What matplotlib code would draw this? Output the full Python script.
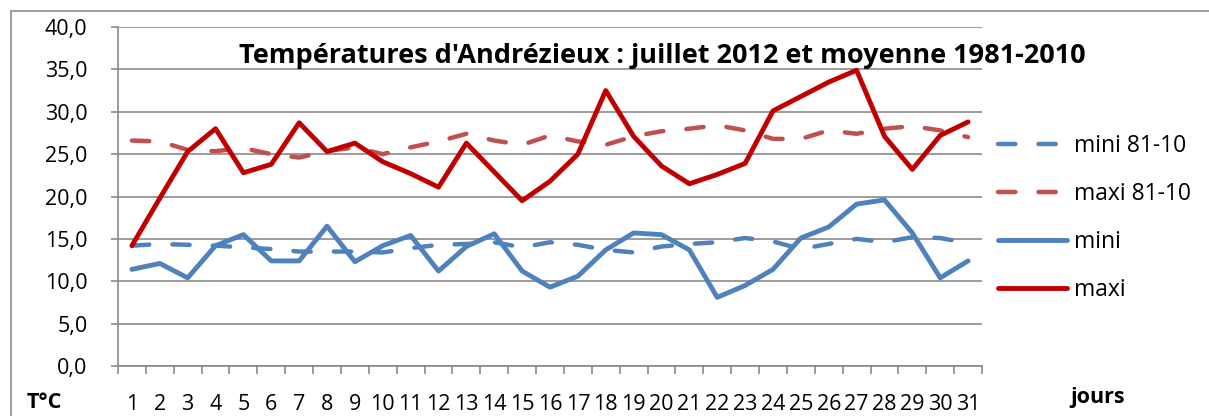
import matplotlib
matplotlib.use("Agg")
import matplotlib.pyplot as plt
from matplotlib.patches import Rectangle

# donnees (juillet 2012, Andrezieux)
jours = list(range(1, 32))
maxi = [14.2, 19.8, 25.3, 28.0, 22.8, 23.8, 28.7, 25.3, 26.3, 24.1, 22.7, 21.1, 26.3, 22.9, 19.5, 21.8,
        25.0, 32.5, 27.1, 23.6, 21.5, 22.6, 23.9, 30.1, 31.8, 33.5, 34.9, 27.1, 23.2, 27.2, 28.8]
mini = [11.4, 12.1, 10.4, 14.2, 15.5, 12.4, 12.4, 16.5, 12.3, 14.2, 15.4, 11.2, 14.1, 15.6, 11.2, 9.3,
        10.6, 13.7, 15.7, 15.5, 13.7, 8.1, 9.5, 11.4, 15.1, 16.4, 19.1, 19.6, 15.7, 10.4, 12.4]
mini_8110 = [14.2, 14.4, 14.3, 14.2, 14.0, 13.8, 13.5, 13.5, 13.5, 13.4, 13.9, 14.3, 14.4, 14.6, 14.0, 14.6,
             14.3, 13.7, 13.4, 14.1, 14.4, 14.6, 15.1, 14.7, 13.8, 14.4, 15.0, 14.6, 15.2, 15.1, 14.5]
maxi_8110 = [26.6, 26.5, 25.5, 25.35, 25.7, 25.0, 24.6, 25.35, 25.8, 25.0, 25.8, 26.5, 27.4, 26.6, 26.1, 27.2,
             26.5, 26.1, 27.1, 27.7, 28.0, 28.4, 27.8, 26.8, 26.8, 27.8, 27.4, 28.0, 28.3, 27.8, 27.0]
yticks = [0, 5, 10, 15, 20, 25, 30, 35, 40]

plt.rcParams['font.family'] = ['Open Sans', 'DejaVu Sans']
GRIS = '#8a8a8a'
W, H = 1209, 416

fig = plt.figure(figsize=(W / 100, H / 100), dpi=100)
ax = fig.add_axes([118 / W, 1 - 366 / H, (982 - 118) / W, (366 - 27) / H])

# cadre exterieur du graphique Excel
fig.patches.append(Rectangle((11 / W, -0.5), 2, 1 - 11 / H + 0.5, transform=fig.transFigure,
                             fill=False, edgecolor=GRIS, lw=1.2))

tiret = (3.9, 5.2)
ax.plot(jours, mini_8110, color='#4f81bd', lw=3.2, dashes=tiret, dash_capstyle='round', label='mini 81-10')
ax.plot(jours, maxi_8110, color='#c0504d', lw=3.2, dashes=tiret, dash_capstyle='round', label='maxi 81-10')
ax.plot(jours, mini, color='#4f81bd', lw=3.5, solid_capstyle='round', label='mini')
ax.plot(jours, maxi, color='#c00000', lw=3.5, solid_capstyle='round', label='maxi')

ax.set_xlim(0.5, 31.5)
ax.set_ylim(0, 40)
ax.set_yticks(yticks)
ax.set_yticklabels([f"{v:.1f}".replace('.', ',') for v in yticks])
ax.set_xticks(jours)
ax.set_xticklabels([str(j) for j in jours])
ax.set_xticks([j + 0.5 for j in range(0, 32)], minor=True)
ax.tick_params(axis='x', which='major', length=0, pad=20, labelsize=15.5)
ax.tick_params(axis='x', which='minor', length=6, width=1.2, color=GRIS)
ax.tick_params(axis='y', length=5, width=1.2, color=GRIS, pad=17, labelsize=15.5)
ax.grid(axis='y', color=GRIS, lw=1.2)
ax.set_axisbelow(True)
for s in ['top', 'right']:
    ax.spines[s].set_visible(False)
for s in ['left', 'bottom']:
    ax.spines[s].set_color(GRIS)
    ax.spines[s].set_linewidth(1.2)

fig.text(662 / W, 1 - 63 / H, "Températures d'Andrézieux : juillet 2012 et moyenne 1981-2010",
         ha='center', va='baseline', fontsize=19.5, fontweight='bold')
fig.text(44 / W, 1 - 403 / H, "T°C", ha='center', va='center', fontsize=15.5, fontweight='bold')
fig.text(1098 / W, 1 - 397 / H, "jours", ha='center', va='center', fontsize=15.5, fontweight='bold')

fig.legend(loc='center left', bbox_to_anchor=(998 / W, 1 - 218 / H), frameon=False, fontsize=16.5,
           handlelength=3.0, handletextpad=0.3, labelspacing=1.05, borderpad=0, borderaxespad=0)

fig.savefig('out.png', dpi=100)
